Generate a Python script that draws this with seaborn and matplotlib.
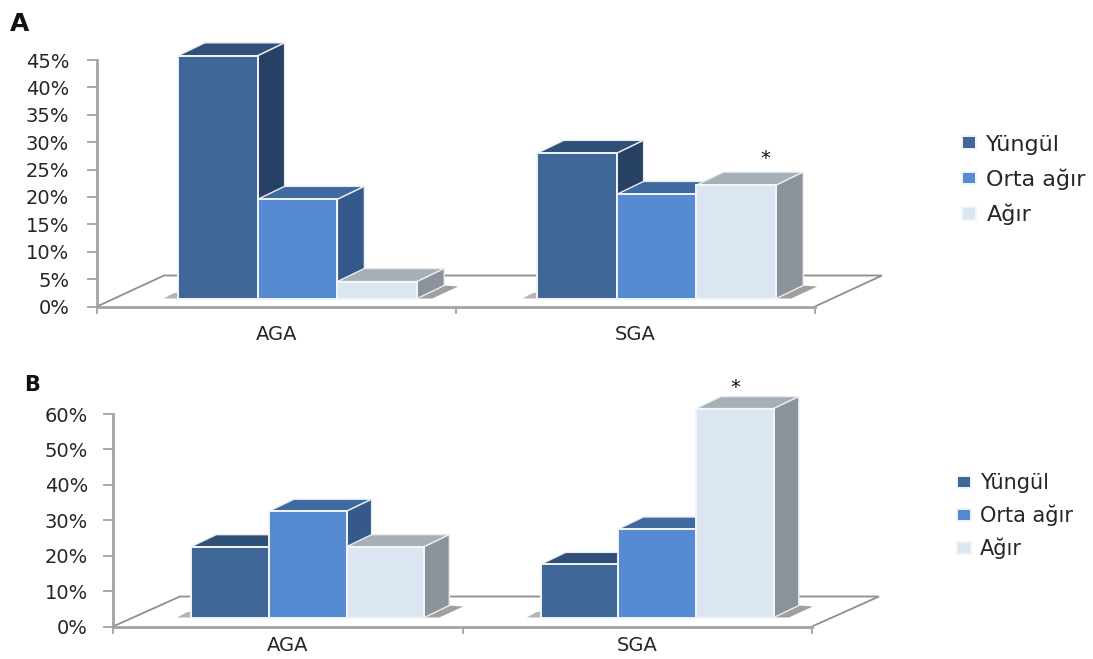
import matplotlib
matplotlib.use("Agg")
import matplotlib.pyplot as plt
import pandas as pd
import seaborn as sns
from matplotlib.patches import Polygon
from matplotlib.ticker import PercentFormatter
from matplotlib.transforms import Affine2D, IdentityTransform

# Category and series data (percent of patients)
groups = ["AGA", "SGA"]
severities = ["Yüngül", "Orta ağır", "Ağır"]
panel_a_aga = [44.3, 18.1, 3.1]
panel_a_sga = [26.5, 19.0, 20.7]
panel_b_aga = [20.0, 30.0, 20.0]
panel_b_sga = [15.0, 25.0, 59.0]
panel_a_ticks = [0, 5, 10, 15, 20, 25, 30, 35, 40, 45]
panel_b_ticks = [0, 10, 20, 30, 40, 50, 60]

front_colors = ["#3F6899", "#568BD4", "#DCE6F2"]
top_colors = ["#2F5078", "#3F6A9F", "#A6AEB6"]
side_colors = ["#274164", "#35598A", "#8B9299"]
AXIS_GREY = "#A3A3A3"
FLOOR_GREY = "#8E8E8E"
TEXT = "#262626"

W, H = 1093, 659
sns.set_theme(style="white")
plt.rcParams["font.family"] = ["DejaVu Sans"]
fig = plt.figure(figsize=(W / 100, H / 100), dpi=100)


def long_table(aga, sga):
    return pd.DataFrame({
        "group": [groups[0]] * 3 + [groups[1]] * 3,
        "severity": severities * 2,
        "pct": list(aga) + list(sga),
    })


def draw_panel(box, aga, sga, ticks, lift, depth, floor, legend_at, legend_size,
               legend_spacing, star, letter, letter_at, letter_size, label_pad, tick_pad):
    """Draw one pseudo-3D clustered bar panel; box is (left, right, y0, ytop) in pixels."""
    left, right, y0, ytop = box
    ax = fig.add_axes([left / W, 1 - y0 / H, (right - left) / W, (y0 - ytop) / H])
    sns.barplot(data=long_table(aga, sga), x="group", y="pct", hue="severity",
                order=groups, hue_order=severities, palette=front_colors,
                saturation=1, width=0.667, edgecolor="#F2F5F9", linewidth=1.4, ax=ax)
    ax.set_xlim(-0.5, 1.5)
    ax.set_ylim(ticks[0], ticks[-1])
    ax.set_xlabel("")
    ax.set_ylabel("")
    ax.patch.set_alpha(0)

    # Axis styling
    for name in ("top", "right"):
        ax.spines[name].set_visible(False)
    for name in ("left", "bottom"):
        ax.spines[name].set_color(AXIS_GREY)
        ax.spines[name].set_linewidth(2)
    ax.set_yticks(ticks)
    ax.yaxis.set_major_formatter(PercentFormatter(decimals=0))
    ax.tick_params(axis="y", length=7, width=1.3, color=AXIS_GREY, labelsize=14,
                   labelcolor=TEXT, pad=tick_pad, left=True)
    ax.set_xticks([0, 1], groups)
    ax.tick_params(axis="x", which="major", length=0, labelsize=14, labelcolor=TEXT,
                   pad=label_pad)
    ax.set_xticks([-0.5, 0.5, 1.5], minor=True)
    ax.tick_params(axis="x", which="minor", length=5, width=1.3, color=AXIS_GREY, bottom=True)

    px = IdentityTransform()
    dx, dy = depth

    # Floor outline running back from the axes
    fx, fy = floor
    corners = ax.transData.transform([(-0.5, 0), (1.5, 0)])
    (xl, yb), (xr, _) = corners
    ax.add_patch(Polygon([(xl, yb), (xl + fx, yb + fy), (xr + fx, yb + fy), (xr, yb)],
                         closed=False, fill=False, edgecolor=FLOOR_GREY, linewidth=1.3,
                         transform=px, clip_on=False, zorder=1))

    # Shift the bars onto the floor and extrude each one
    shifted = ax.transData + Affine2D().translate(*lift)
    z = 10
    for g in range(len(groups)):
        group_bars = [c.patches[g] for c in ax.containers]
        for s, bar in enumerate(group_bars):
            x0, x1 = bar.get_x(), bar.get_x() + bar.get_width()
            h = bar.get_height()
            (a, b), (c, d) = shifted.transform([(x0, 0), (x1, h)])
            bar.set_transform(shifted)
            bar.set_clip_on(False)
            bar.set_zorder(z + 1)
            ax.add_patch(Polygon([(a, d), (c, d), (c + dx, d + dy), (a + dx, d + dy)],
                                 facecolor=top_colors[s], edgecolor="#E9EDF2", linewidth=1.0,
                                 transform=px, clip_on=False, zorder=z))
            ax.add_patch(Polygon([(c, b), (c + dx, b + dy), (c + dx, d + dy), (c, d)],
                                 facecolor=side_colors[s], edgecolor="#E9EDF2", linewidth=1.0,
                                 transform=px, clip_on=False, zorder=z))
            z += 2
            # Soft contact shadows on the floor at both ends of the cluster
            if s == 0:
                ax.add_patch(Polygon([(a - 14, b), (a, b), (a, b + 6), (a - 5, b + 5)],
                                     facecolor="#777777", alpha=0.55, edgecolor="none",
                                     transform=px, clip_on=False, zorder=2))
            if s == len(group_bars) - 1:
                ax.add_patch(Polygon([(c, b), (c + 15, b), (c + dx + 14, b + dy - 1), (c + dx, b + dy)],
                                     facecolor="#808080", alpha=0.75, edgecolor="none",
                                     transform=px, clip_on=False, zorder=2))
            # Significance marker above the severe-group bar
            if g == 1 and s == 2:
                ax.annotate("*", xy=((x0 + x1) / 2, h), xycoords=shifted,
                            xytext=star, textcoords="offset pixels", ha="center", va="center",
                            fontsize=14, color="#111111", zorder=60)

    # Legend on the right
    lx, ly = legend_at
    sns.move_legend(ax, loc="center left", bbox_to_anchor=(lx / W, 1 - ly / H),
                    bbox_transform=fig.transFigure, frameon=False, title=None,
                    fontsize=legend_size, labelcolor=TEXT, borderpad=0, borderaxespad=0,
                    handlelength=0.65, handleheight=0.5, handletextpad=0.45,
                    labelspacing=legend_spacing)

    fig.text(letter_at[0] / W, 1 - letter_at[1] / H, letter, fontsize=letter_size,
             fontweight="bold", color="#111111", ha="left", va="baseline")


draw_panel((97, 815, 306.5, 60), panel_a_aga, panel_a_sga, panel_a_ticks,
           lift=(21, 8), depth=(27, 13), floor=(67, 31),
           legend_at=(962, 180), legend_size=16, legend_spacing=0.62, star=(29, 27),
           letter="A", letter_at=(10, 31), letter_size=18, label_pad=13, tick_pad=13)
draw_panel((113, 812, 626.5, 414), panel_b_aga, panel_b_sga, panel_b_ticks,
           lift=(20, 9), depth=(25, 12), floor=(67, 30),
           legend_at=(957, 516), legend_size=15, legend_spacing=0.55, star=(0, 21),
           letter="B", letter_at=(24, 391), letter_size=15, label_pad=7, tick_pad=11)

fig.savefig("out.png", dpi=100, facecolor="white")
